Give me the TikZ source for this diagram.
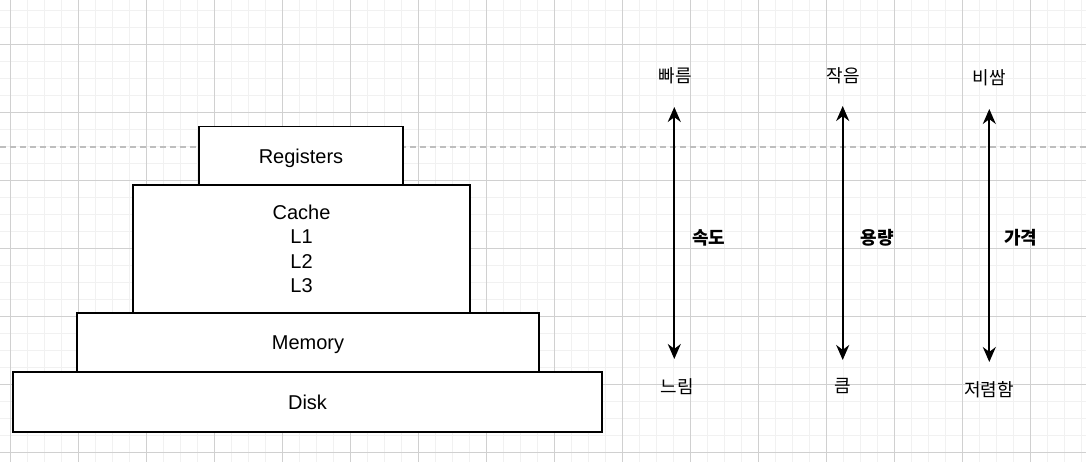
\documentclass[tikz,border=0pt]{standalone}
\usepackage{fontspec}
\setmainfont{Liberation Sans}
\newfontfamily\kor{Noto Sans CJK KR}
\usetikzlibrary{arrows.meta}

\definecolor{gridminor}{HTML}{F1F1F1}
\definecolor{gridmajor}{HTML}{D0D0D0}
\definecolor{pagebreak}{HTML}{BEBEBE}

\begin{document}
\begin{tikzpicture}[x=1pt, y=-1pt,
	layer/.style={draw, fill=white, line width=1.8pt, inner sep=0pt, font=\fontsize{20}{24.4}\selectfont, align=center},
	flat/.style={text depth=0pt},
	word/.style={font=\kor\fontsize{18}{20}\selectfont, inner sep=0pt},
	axis/.style={word, font=\kor\bfseries\fontsize{18}{20}\selectfont},
	scale arrow/.style={{Stealth[length=15pt,width=13pt]}-{Stealth[length=15pt,width=13pt]}, line width=1.8pt}]

	\useasboundingbox (0,0) rectangle (1086,462);

	% background grid
	\foreach \x in {10.7,27.7,...,1086}
		\draw[gridminor, line width=1.5pt] (\x,0) -- (\x,462);
	\foreach \y in {10.3,27.3,...,462}
		\draw[gridminor, line width=1.5pt] (0,\y) -- (1086,\y);
	\foreach \x in {10.7,78.7,...,1086}
		\draw[gridmajor, line width=1pt] (\x,0) -- (\x,462);
	\foreach \y in {44.3,112.3,...,462}
		\draw[gridmajor, line width=1pt] (0,\y) -- (1086,\y);
	\draw[pagebreak, line width=1.8pt, dash pattern=on 6pt off 4pt] (0,146.7) -- (1086,146.7);

	% memory pyramid
	\node[layer, flat, minimum width=204pt, minimum height=59pt] (reg) at (301,156) {Registers};
	\node[layer, minimum width=337pt, minimum height=128pt] (cache) at (301.5,249) {Cache\\L1\\L2\\L3};
	\node[layer, flat, minimum width=462pt, minimum height=59pt] (mem) at (308,342.5) {Memory};
	\node[layer, minimum width=589pt, minimum height=60pt] (disk) at (307.5,402) {Disk};

	% speed
	\node[word] (fast) at (675,76) {빠름};
	\node[word] (slow) at (677,386.5) {느림};
	\coordinate (fasttip) at (674.3,107);
	\coordinate (slowtip) at (674.3,359);
	\draw[scale arrow] (fasttip) -- node[axis, right=17pt, yshift=-4.5pt] (speed) {속도} (slowtip);

	% capacity
	\node[word] (small) at (843,76) {작음};
	\node[word] (large) at (842.5,386) {큼};
	\coordinate (smalltip) at (842.7,106);
	\coordinate (largetip) at (842.7,360);
	\draw[scale arrow] (smalltip) -- node[axis, right=17pt, yshift=-4.5pt] (size) {용량} (largetip);

	% price
	\node[word] (dear) at (989.5,78) {비쌈};
	\node[word] (cheap) at (989,390) {저렴함};
	\coordinate (deartip) at (989.3,109);
	\coordinate (cheaptip) at (989.3,362);
	\draw[scale arrow] (deartip) -- node[axis, right=14pt, yshift=-2pt] (price) {가격} (cheaptip);

\end{tikzpicture}
\end{document}
